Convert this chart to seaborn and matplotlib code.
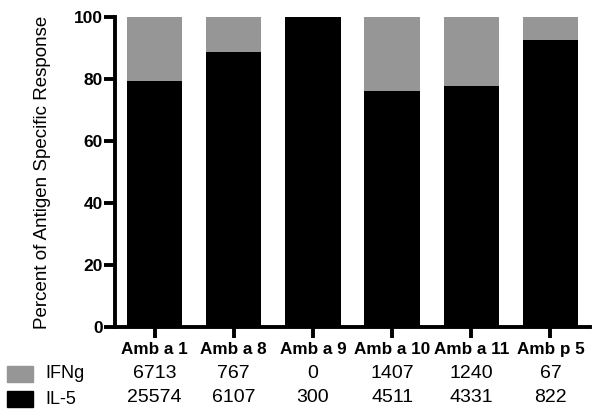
import matplotlib
matplotlib.use('Agg')
import matplotlib.pyplot as plt
import matplotlib.transforms as mtransforms
from matplotlib.patches import Rectangle
import seaborn as sns
import pandas as pd

# Data
antigens = ["Amb a 1", "Amb a 8", "Amb a 9", "Amb a 10", "Amb a 11", "Amb p 5"]
ifng = [6713, 767, 0, 1407, 1240, 67]
il5 = [25574, 6107, 300, 4511, 4331, 822]

df = pd.DataFrame({"antigen": antigens, "IFNg": ifng, "IL-5": il5})
df["total"] = 100.0
df["il5_pct"] = df["IL-5"] / (df["IL-5"] + df["IFNg"]) * 100

GRAY = "#969696"
BLACK = "#000000"

sns.set_style("ticks", {"text.color": "black", "axes.labelcolor": "black",
                        "xtick.color": "black", "ytick.color": "black",
                        "axes.edgecolor": "black"})
plt.rcParams['font.family'] = ['Liberation Sans', 'DejaVu Sans']

fig = plt.figure(figsize=(6.02, 4.17), dpi=100)
ax = fig.add_axes([115 / 602, 90 / 417, 475 / 602, 310 / 417])

# gray (IFNg) fills up to 100, black (IL-5) drawn on top
sns.barplot(data=df, x="antigen", y="total", color=GRAY, saturation=1,
            width=0.7, linewidth=0, ax=ax)
sns.barplot(data=df, x="antigen", y="il5_pct", color=BLACK, saturation=1,
            width=0.7, linewidth=0, ax=ax)

ax.set_xlim(-0.5, 5.5)
ax.set_ylim(0, 100)
ax.set_yticks([0, 20, 40, 60, 80, 100])
ax.set_xlabel("")
ax.set_ylabel("Percent of Antigen Specific Response", fontsize=13.5, labelpad=16)
sns.despine(ax=ax)
for s in ["left", "bottom"]:
    ax.spines[s].set_linewidth(2.8)
ax.tick_params(axis="both", width=2.8, length=8)
ax.tick_params(axis="y", labelsize=12.5, pad=1)
ax.tick_params(axis="x", labelsize=12.3, pad=3)
for lab in ax.get_yticklabels() + ax.get_xticklabels():
    lab.set_fontweight("bold")

# count table under the axis
trans = mtransforms.blended_transform_factory(ax.transData, fig.transFigure)
for i in range(len(antigens)):
    ax.text(i, 1 - 374 / 417, str(ifng[i]), transform=trans, ha="center",
            va="center", fontsize=14)
    ax.text(i, 1 - 397 / 417, str(il5[i]), transform=trans, ha="center",
            va="center", fontsize=14)

# legend swatches on the left
fig.patches.append(Rectangle((7 / 602, 35 / 417), 26 / 602, 16 / 417,
                             transform=fig.transFigure, color=GRAY))
fig.patches.append(Rectangle((7 / 602, 10 / 417), 26 / 602, 16 / 417,
                             transform=fig.transFigure, color=BLACK))
fig.text(45 / 602, 1 - 374 / 417, "IFNg", ha="left", va="center", fontsize=13)
fig.text(45 / 602, 1 - 399 / 417, "IL-5", ha="left", va="center", fontsize=13)

fig.savefig("out.png", dpi=100)
